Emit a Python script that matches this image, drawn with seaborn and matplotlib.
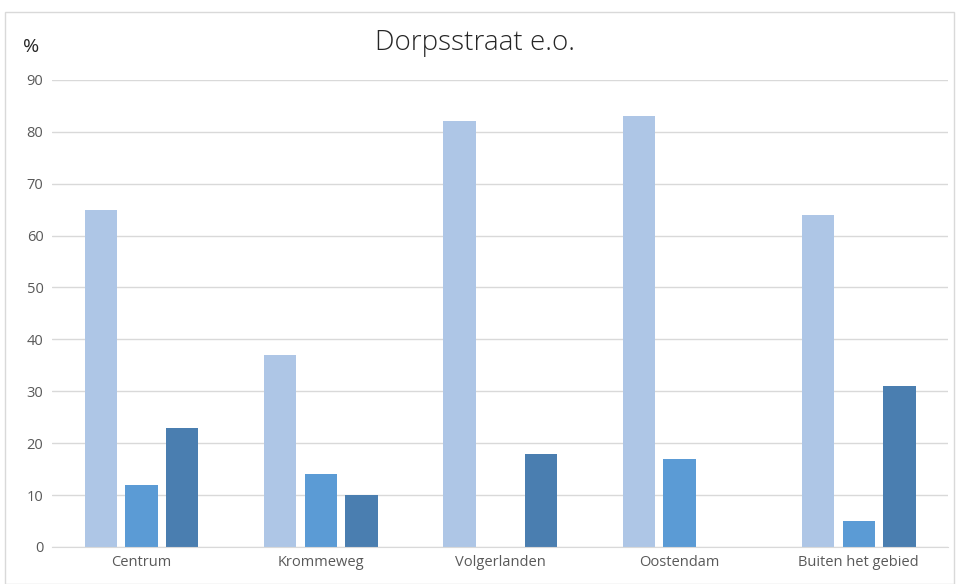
import pandas as pd
import numpy as np
import matplotlib
matplotlib.use("Agg")
import matplotlib.pyplot as plt
import seaborn as sns
from matplotlib.patches import Rectangle

# Data
categories = ["Centrum", "Krommeweg", "Volgerlanden", "Oostendam", "Buiten het gebied"]
series_names = ["Reeks 1", "Reeks 2", "Reeks 3"]
reeks1 = [65, 37, 82, 83, 64]
reeks2 = [12, 14, 0, 17, 5]
reeks3 = [23, 10, 18, 0, 31]
colors = ["#aec6e6", "#5b9bd5", "#4a7eb0"]

rows = []
for s, vals in zip(series_names, [reeks1, reeks2, reeks3]):
    for c, v in zip(categories, vals):
        rows.append({"cat": c, "serie": s, "val": v})
df = pd.DataFrame(rows)

sns.set_style("white")
plt.rcParams["font.family"] = ["Open Sans", "DejaVu Sans"]

fig = plt.figure(figsize=(9.59, 5.84), dpi=100)
ax = fig.add_axes([0.054, 0.0634, 0.935, 0.8])

sns.barplot(data=df, x="cat", y="val", hue="serie", palette=colors,
            order=categories, hue_order=series_names, width=0.68, gap=0.2,
            saturation=1, linewidth=0, ax=ax, legend=False)

ax.set_ylim(0, 90)
ax.set_yticks(range(0, 91, 10))
ax.set_xlim(-0.5, 4.5)
ax.grid(axis="y", color="#d9d9d9", linewidth=1)
ax.set_axisbelow(True)
for sp in ["left", "right", "top"]:
    ax.spines[sp].set_visible(False)
ax.spines["bottom"].set_color("#d9d9d9")
ax.tick_params(axis="both", length=0, labelsize=10.5, labelcolor="#595959", pad=6)
ax.set_xlabel("")
ax.set_ylabel("")

fig.text(0.495, 0.926, "Dorpsstraat e.o.", ha="center", va="center",
         fontsize=20, color="#262626", fontweight="light")
fig.text(0.032, 0.919, "%", ha="center", va="center", fontsize=14, color="#262626")

fig.patches.append(Rectangle((0.005, 0.0), 0.99, 0.979, transform=fig.transFigure,
                             fill=False, edgecolor="#d9d9d9", linewidth=1))

fig.savefig("out.png", dpi=100)
